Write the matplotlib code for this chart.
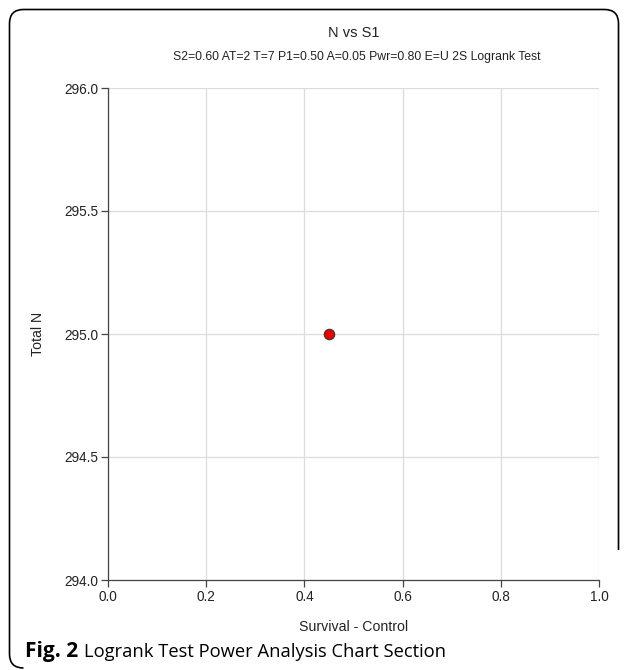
import matplotlib.pyplot as plt
from matplotlib.patches import PathPatch
from matplotlib.path import Path

# data
survival_control = [0.45]
total_n = [295.0]
xticks = [0.0, 0.2, 0.4, 0.6, 0.8, 1.0]
yticks = [294.0, 294.5, 295.0, 295.5, 296.0]

plt.rcParams['font.family'] = ['Liberation Sans', 'DejaVu Sans']

W, H = 627, 670
fig = plt.figure(figsize=(W / 100, H / 100), dpi=100)

# frame: open on lower right, rounded corners (pixel coords, y up)
r = 14
L, R, T, B = 9.5, 618.5, H - 9.5, 2
verts = [
	(L + r, B), (L, B), (L, B + r),
	(L, T - r), (L, T), (L + r, T),
	(R - r, T), (R, T), (R, T - r),
	(R, H - 550),
]
codes = [Path.MOVETO, Path.CURVE3, Path.CURVE3,
	Path.LINETO, Path.CURVE3, Path.CURVE3,
	Path.LINETO, Path.CURVE3, Path.CURVE3,
	Path.LINETO]
verts = [(x / W, y / H) for x, y in verts]
fig.patches.append(PathPatch(Path(verts, codes), transform=fig.transFigure,
	fill=False, edgecolor="black", linewidth=1.2))

ax = fig.add_axes([108 / W, 1 - 580 / H, 491 / W, 492 / H])
ax.plot(survival_control, total_n, "o", markersize=7.5,
	markerfacecolor="#ee0000", markeredgecolor="#333333",
	markeredgewidth=0.8, zorder=5, clip_on=False)
ax.set_xlim(0, 1)
ax.set_ylim(294, 296)
ax.set_xticks(xticks)
ax.set_yticks(yticks)
ax.xaxis.set_major_formatter(plt.FormatStrFormatter("%.1f"))
ax.yaxis.set_major_formatter(plt.FormatStrFormatter("%.1f"))
ax.grid(True, color="#dcdcdc", linewidth=0.9)
ax.set_axisbelow(True)
for s in ["top", "right"]:
	ax.spines[s].set_visible(False)
for s in ["left", "bottom"]:
	ax.spines[s].set_color("#444444")
	ax.spines[s].set_linewidth(0.9)
ax.tick_params(direction="out", length=5, width=0.9, color="#444444",
	labelsize=9.8, labelcolor="#222222", pad=2)
ax.set_xlabel("Survival - Control", fontsize=10.2, color="#222222",
	labelpad=12)
ax.set_ylabel("Total N", fontsize=10.2, color="#222222", labelpad=14)

fig.text(354 / W, 1 - 33 / H, "N vs S1", ha="center", va="center",
	fontsize=10.5, color="#222222")
fig.text(357 / W, 1 - 57 / H,
	"S2=0.60 AT=2 T=7 P1=0.50 A=0.05 Pwr=0.80 E=U 2S Logrank Test",
	ha="center", va="center", fontsize=8.8, color="#222222")

fig.text(25 / W, 1 - 652 / H, "Fig. 2", ha="left", va="center",
	fontsize=15, fontweight="bold", family="Open Sans")
fig.text(84 / W, 1 - 652 / H, "Logrank Test Power Analysis Chart Section",
	ha="left", va="center", fontsize=13.2, family="Open Sans")

fig.savefig("out.png", dpi=100)
